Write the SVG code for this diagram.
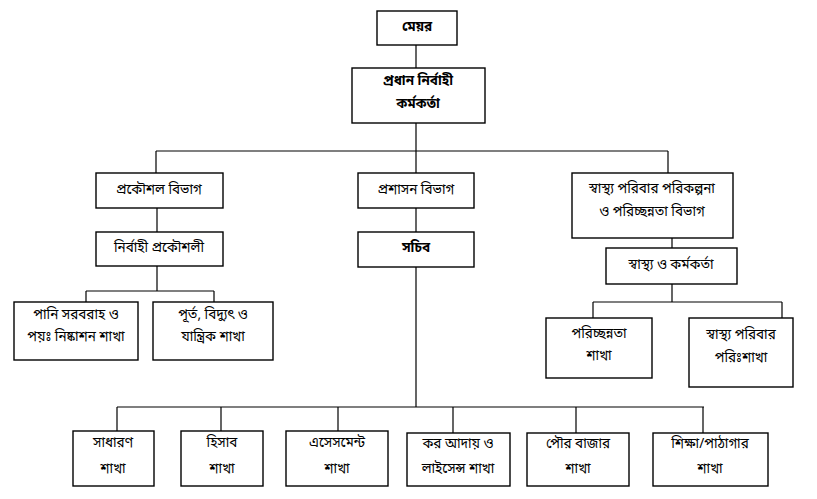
<svg xmlns="http://www.w3.org/2000/svg" width="817" height="499" viewBox="0 0 817 499">
<style>
.box{fill:#fff;stroke:#000;stroke-width:1.4}
.ln{fill:none;stroke:#000;stroke-width:1.2}
text{font-family:"Noto Sans Bengali","Noto Sans","DejaVu Sans",sans-serif;font-size:13.5px;text-anchor:middle;dominant-baseline:central;fill:#000}
.b{font-weight:bold}
</style>
<rect width="817" height="499" fill="#fff"/>
<g id="connectors">
<path class="ln" d="M416,45V68 M416,123V151 M156,151H668 M156,151V173 M416,151V173 M668,151V173"/>
<path class="ln" d="M157,208V232 M157,266V291 M86,291H214 M86,291V302 M214,291V302"/>
<path class="ln" d="M416,208V232 M416,267V407 M117,407H704 M117,407V431 M221,407V431 M338,407V431 M453,407V433 M576,407V433 M703,407V433"/>
<path class="ln" d="M672,238V248 M672,284V302 M593,302H782 M593,302V318 M782,302V318"/>
</g>
<g id="mayor"><rect class="box" x="377" y="11" width="80" height="34"/><text class="b" x="417" y="28">মেয়র</text></g>
<g id="ceo"><rect class="box" x="352" y="68" width="133" height="55"/><text class="b" x="418" y="82">প্রধান নির্বাহী</text><text class="b" x="418" y="105">কর্মকর্তা</text></g>
<g id="engineering"><rect class="box" x="96" y="173" width="127" height="35"/><text x="159" y="191">প্রকৌশল বিভাগ</text></g>
<g id="exec-engineer"><rect class="box" x="96" y="232" width="127" height="34"/><text x="159" y="249">নির্বাহী প্রকৌশলী</text></g>
<g id="water"><rect class="box" x="14" y="302" width="124" height="58"/><text x="76" y="316">পানি সরবরাহ ও</text><text x="76" y="338">পয়ঃ নিষ্কাশন শাখা</text></g>
<g id="works"><rect class="box" x="153" y="302" width="120" height="58"/><text x="213" y="316">পূর্ত, বিদ্যুৎ ও</text><text x="213" y="338">যান্ত্রিক শাখা</text></g>
<g id="admin"><rect class="box" x="358" y="173" width="116" height="35"/><text x="416" y="191">প্রশাসন বিভাগ</text></g>
<g id="secretary"><rect class="box" x="358" y="232" width="116" height="35"/><text class="b" x="416" y="249">সচিব</text></g>
<g id="health"><rect class="box" x="572" y="173" width="161" height="65"/><text x="652" y="190">স্বাস্থ্য পরিবার পরিকল্পনা</text><text x="652" y="213">ও পরিচ্ছন্নতা বিভাগ</text></g>
<g id="health-officer"><rect class="box" x="606" y="248" width="131" height="36"/><text x="671" y="266">স্বাস্থ্য ও কর্মকর্তা</text></g>
<g id="cleaning"><rect class="box" x="546" y="318" width="106" height="60"/><text x="599" y="335">পরিচ্ছন্নতা</text><text x="599" y="357">শাখা</text></g>
<g id="family"><rect class="box" x="689" y="318" width="104" height="69"/><text x="741" y="336">স্বাস্থ্য পরিবার</text><text x="741" y="359">পরিঃশাখা</text></g>
<g id="general"><rect class="box" x="73" y="431" width="81" height="55"/><text x="113" y="444">সাধারণ</text><text x="113" y="470">শাখা</text></g>
<g id="accounts"><rect class="box" x="181" y="431" width="82" height="55"/><text x="222" y="444">হিসাব</text><text x="222" y="470">শাখা</text></g>
<g id="assessment"><rect class="box" x="286" y="431" width="102" height="55"/><text x="337" y="444">এসেসমেন্ট</text><text x="337" y="470">শাখা</text></g>
<g id="tax"><rect class="box" x="407" y="433" width="103" height="53"/><text x="458" y="445">কর আদায় ও</text><text x="458" y="470">লাইসেন্স শাখা</text></g>
<g id="market"><rect class="box" x="527" y="433" width="102" height="53"/><text x="578" y="445">পৌর বাজার</text><text x="578" y="470">শাখা</text></g>
<g id="education"><rect class="box" x="653" y="433" width="115" height="53"/><text x="710" y="445">শিক্ষা/পাঠাগার</text><text x="710" y="470">শাখা</text></g>
</svg>
